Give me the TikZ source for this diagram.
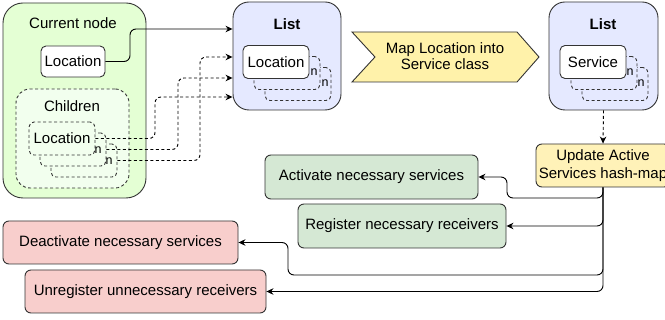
\documentclass[tikz,border=0pt]{standalone}
\usepackage{fontspec}
\setmainfont{Liberation Sans}
\usetikzlibrary{arrows.meta,calc}
\definecolor{curfill}{HTML}{E4FFD4}
\definecolor{childfill}{HTML}{F2FFEE}
\definecolor{listfill}{HTML}{E5E9FF}
\definecolor{mapfill}{HTML}{FFF2AA}
\definecolor{updfill}{HTML}{FFF2B8}
\definecolor{okfill}{HTML}{D5E8D4}
\definecolor{badfill}{HTML}{F8CECC}
\definecolor{edge}{HTML}{333333}
\tikzset{
  txt/.style={font=\fontsize{15}{17}\selectfont},
  frame/.style={draw=edge, line width=0.9pt, inner sep=0pt},
  bigbox/.style={frame, rounded corners=18pt},
  itembox/.style={frame, rounded corners=5pt, fill=white, minimum width=66pt, minimum height=33pt, txt},
  ghost/.style={itembox, dash pattern=on 3pt off 2.5pt},
  actionbox/.style={frame, rounded corners=6pt, minimum height=44pt, txt},
  nmark/.style={font=\fontsize{12.5}{13}\selectfont, inner sep=0pt},
  conn/.style={draw=black, line width=0.9pt, rounded corners=6pt, -{Stealth[length=7pt,width=6.5pt]}},
  dconn/.style={conn, dash pattern=on 3pt off 2.5pt},
}
\begin{document}
\begin{tikzpicture}[x=1pt,y=-1pt]
\clip (0,0) rectangle (665,320);
\fill[white] (0,0) rectangle (665,320);

% ---- current node with its own location and the children
\node[bigbox, fill=curfill, minimum width=143pt, minimum height=195pt, rounded corners=20pt] (cur) at (74.5,100.5) {};
\node[txt] (curtitle) at (73,23) {Current node};
\node[itembox, minimum width=64pt, minimum height=31pt] (curloc) at (73,61.5) {Location};
\node[frame, fill=childfill, dash pattern=on 3pt off 2.5pt, rounded corners=14pt, minimum width=113pt, minimum height=99pt] (children) at (72.5,138.5) {};
\node[txt] (childtitle) at (72,106) {Children};
\node[ghost, fill=childfill] (ch3) at (84,160.5) {};
\node[ghost, fill=childfill] (ch2) at (73,149.5) {};
\node[ghost, fill=childfill] (ch1) at (62,138.5) {Location};
\node[nmark] (chn1) at (98,150) {n};
\node[nmark] (chn2) at (109,161) {n};

% ---- list of locations
\node[bigbox, fill=listfill, minimum width=108pt, minimum height=108pt, rounded corners=16pt] (list1) at (287,56) {};
\node[txt, font=\fontsize{15}{17}\selectfont\bfseries] (list1t) at (287,24) {List};
\node[ghost, fill=listfill] (l1c) at (298,84) {};
\node[ghost, fill=listfill] (l1b) at (287,73) {};
\node[itembox] (l1a) at (276,62) {Location};
\node[nmark] (l1n1) at (314,72) {n};
\node[nmark] (l1n2) at (325,83) {n};

% ---- mapping step
\path[frame, fill=mapfill] (352,32) -- (517,32) -- (539,57) -- (517,82) -- (352,82) -- (375,57) -- cycle;
\node[txt, align=center, font=\fontsize{15}{16}\selectfont] (map) at (445,56) {Map Location into\\Service class};

% ---- list of services
\node[bigbox, fill=listfill, minimum width=109pt, minimum height=108pt, rounded corners=16pt] (list2) at (603.5,56) {};
\node[txt, font=\fontsize{15}{17}\selectfont\bfseries] (list2t) at (603,24) {List};
\node[ghost, fill=listfill] (s3) at (615,84) {};
\node[ghost, fill=listfill] (s2) at (604,73) {};
\node[itembox] (s1) at (593,62) {Service};
\node[nmark] (sn1) at (630,72) {n};
\node[nmark] (sn2) at (641,83) {n};

% ---- update step and resulting actions
\node[actionbox, fill=updfill, minimum width=134pt, minimum height=43pt, align=center, font=\fontsize{15}{18}\selectfont] (upd) at (603,165.5) {Update Active\\Services hash-map};
\node[actionbox, fill=okfill, minimum width=213pt] (act) at (371.5,177) {Activate necessary services};
\node[actionbox, fill=okfill, minimum width=208pt] (reg) at (402,226) {Register necessary receivers};
\node[actionbox, fill=badfill, minimum width=235pt, minimum height=43pt] (deact) at (120.5,242.5) {Deactivate necessary services};
\node[actionbox, fill=badfill, minimum width=241pt, minimum height=43pt] (unreg) at (145.5,291.5) {Unregister unnecessary receivers};

% ---- bend points
\coordinate (j0) at (130,29);
\coordinate (b1) at (155,97);
\coordinate (b2) at (178,78);
\coordinate (b3) at (200,57);
\coordinate (d1) at (507,198);
\coordinate (d3) at (288,275);

% ---- connectors
\draw[conn] (curloc.east) -| (j0) -- (j0 -| list1.west);
\draw[dconn] (ch1.east) -| (b1) -- (b1 -| list1.west);
\draw[dconn] (ch2.east) -| (b2) -- (b2 -| list1.west);
\draw[dconn] (ch3.east) -| (b3) -- (b3 -| list1.west);
\draw[dconn] (list2.south) -- (upd.north);
\draw[conn] (upd.south) |- (d1) |- (act.east);
\draw[conn] (upd.south) |- (reg.east);
\draw[conn] (upd.south) |- (d3) |- (deact.east);
\draw[conn] (upd.south) |- (unreg.east);
\end{tikzpicture}
\end{document}
